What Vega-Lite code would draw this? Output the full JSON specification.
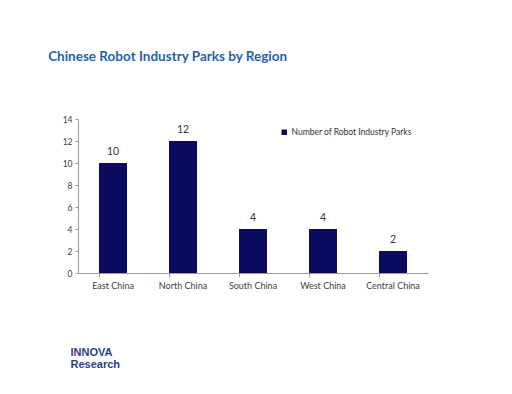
{
  "$schema": "https://vega.github.io/schema/vega-lite/v6.json",
  "autosize": "none",
  "width": 350,
  "height": 154,
  "padding": {"left": 78, "top": 119, "right": 84, "bottom": 121},
  "background": "white",
  "config": {
    "font": "Lato",
    "view": {"stroke": null},
    "axis": {"grid": false, "domainColor": "#9a9a9a", "tickColor": "#9a9a9a", "labelColor": "#404040", "labelFont": "Lato", "labelFontSize": 8.5}
  },
  "title": {
    "text": "Chinese Robot Industry Parks by Region",
    "anchor": "start",
    "dx": -14,
    "offset": 52,
    "fontSize": 13.5,
    "fontWeight": "bold",
    "color": "#2462a8",
    "font": "Lato"
  },
  "data": {
    "values": [
      {"region": "East China", "parks": 10, "series": "Number of Robot Industry Parks"},
      {"region": "North China", "parks": 12, "series": "Number of Robot Industry Parks"},
      {"region": "South China", "parks": 4, "series": "Number of Robot Industry Parks"},
      {"region": "West China", "parks": 4, "series": "Number of Robot Industry Parks"},
      {"region": "Central China", "parks": 2, "series": "Number of Robot Industry Parks"}
    ]
  },
  "encoding": {
    "x": {
      "field": "region", "type": "nominal", "sort": null,
      "scale": {"paddingInner": 0.6, "paddingOuter": 0.3},
      "axis": {"labelAngle": 0, "bandPosition": 0, "tickSize": 4, "labelPadding": 4, "labelFontSize": 9, "title": ["INNOVA", "Research"], "titleAnchor": "start", "titleX": -8, "titleY": 73, "titleFontSize": 11, "titleFont": "Liberation Sans", "titleColor": "#2a3f8a", "titleFontWeight": "bold", "titleAlign": "left", "titleLineHeight": 12}
    },
    "y": {
      "field": "parks", "type": "quantitative",
      "scale": {"domain": [0, 14]},
      "axis": {"values": [0, 2, 4, 6, 8, 10, 12, 14], "tickSize": 3, "labelPadding": 3, "title": null}
    }
  },
  "layer": [
    {
      "mark": {"type": "bar"},
      "encoding": {
        "color": {
          "field": "series", "type": "nominal",
          "scale": {"range": ["#0b0b60"]},
          "legend": {"title": null, "orient": "none", "legendX": 202, "legendY": 9, "symbolType": "square", "symbolSize": 30, "labelFontSize": 8.5, "labelColor": "#333333", "labelFont": "Lato", "labelOffset": 3}
        }
      }
    },
    {
      "mark": {"type": "text", "baseline": "bottom", "dy": -6, "fontSize": 10.5, "color": "#333333", "font": "Lato"},
      "encoding": {"text": {"field": "parks", "type": "quantitative"}}
    }
  ]
}
